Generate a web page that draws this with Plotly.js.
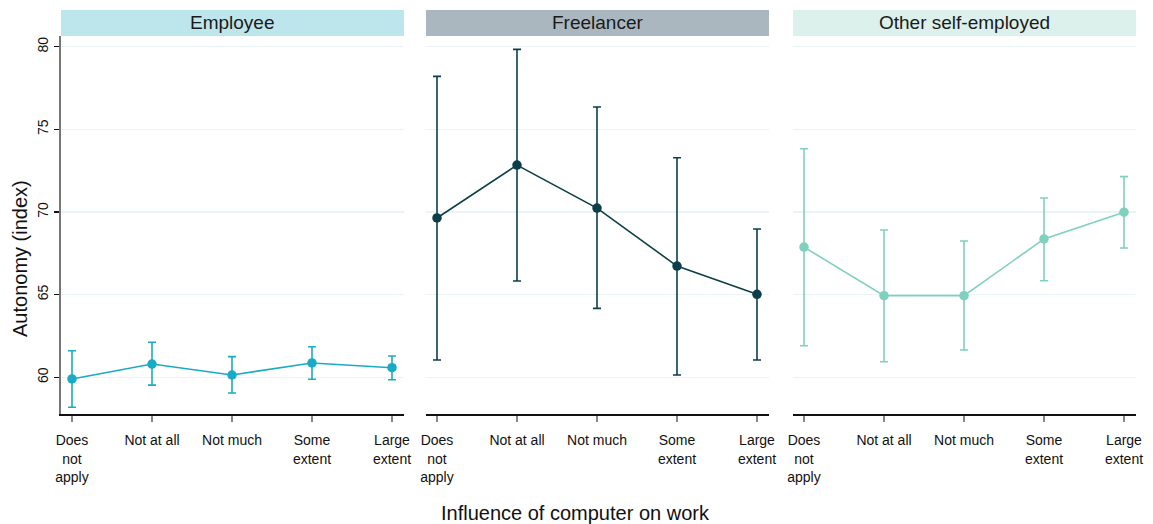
<!DOCTYPE html>
<html>
<head>
<meta charset="utf-8">
<script src="https://cdn.plot.ly/plotly-3.0.1.min.js"></script>
<style>html,body{margin:0;padding:0;background:#fff;}#chart{width:1153px;height:524px;}</style>
</head>
<body>
<div id="chart"></div>
<script>
const categories = ["Does<br>not<br>apply", "Not at all", "Not much", "Some<br>extent", "Large<br>extent"];
const panelNames = ["Employee", "Freelancer", "Other self-employed"];

const employeeMean = [59.90, 60.80, 60.14, 60.87, 60.58];
const employeeLow  = [58.19, 59.53, 59.05, 59.88, 59.85];
const employeeHigh = [61.61, 62.12, 61.25, 61.85, 61.29];

const freelancerMean = [69.64, 72.84, 70.24, 66.73, 65.02];
const freelancerLow  = [61.05, 65.83, 64.17, 60.14, 61.05];
const freelancerHigh = [78.21, 79.84, 76.35, 73.28, 68.97];

const otherMean = [67.88, 64.94, 64.94, 68.37, 69.99];
const otherLow  = [61.91, 60.94, 61.65, 65.84, 67.82];
const otherHigh = [73.83, 68.91, 68.25, 70.85, 72.14];

const yTicks = [60, 65, 70, 75, 80];

const lineColors = ["#19abc6", "#0d3f4b", "#7fd0bf"];
const stripColors = ["#bde5ec", "#aab7bf", "#dcf0ec"];

const W = 1153, H = 524;
const px = v => v / W;
const py = v => (H - v) / H;

const panelX = [[61, 404], [426, 769], [793, 1136]];
const plotTop = 36, plotBottom = 414, stripTop = 10;

const series = [
  [employeeMean, employeeLow, employeeHigh],
  [freelancerMean, freelancerLow, freelancerHigh],
  [otherMean, otherLow, otherHigh]
];

const traces = series.map((s, i) => {
  const [m, lo, hi] = s;
  const sfx = i === 0 ? "" : String(i + 1);
  return {
    type: "scatter",
    mode: "lines+markers",
    x: categories,
    y: m,
    xaxis: "x" + sfx,
    yaxis: "y" + sfx,
    line: {color: lineColors[i], width: 1.6},
    marker: {color: lineColors[i], size: 9.5},
    error_y: {
      type: "data",
      symmetric: false,
      array: hi.map((v, k) => v - m[k]),
      arrayminus: m.map((v, k) => v - lo[k]),
      color: lineColors[i],
      thickness: 1.6,
      width: 4
    },
    showlegend: false,
    hoverinfo: "x+y"
  };
});

const font = {family: "Arial, 'Liberation Sans', sans-serif", color: "#111"};
const yRange = [57.78, 80.65];

const layout = {
  width: W, height: H,
  margin: {l: 0, r: 0, t: 0, b: 0},
  paper_bgcolor: "#fff",
  plot_bgcolor: "#fff",
  font: Object.assign({size: 14}, font),
  shapes: [],
  annotations: []
};

for (let i = 0; i < 3; i++) {
  const sfx = i === 0 ? "" : String(i + 1);
  layout["xaxis" + sfx] = {
    domain: [px(panelX[i][0]), px(panelX[i][1])],
    anchor: "y" + sfx,
    type: "category",
    range: [-0.1375, 4.15],
    showline: true, linecolor: "#111", linewidth: 1.5,
    ticks: "outside", ticklen: 6, tickcolor: "#888", tickwidth: 1.5,
    ticklabelstandoff: 7,
    tickfont: Object.assign({size: 14}, font),
    showgrid: false, zeroline: false, fixedrange: true
  };
  layout["yaxis" + sfx] = {
    domain: [py(plotBottom), py(plotTop)],
    anchor: "x" + sfx,
    range: yRange,
    tickvals: yTicks,
    ticktext: yTicks.map(String),
    tickangle: -90,
    showticklabels: i === 0,
    ticks: i === 0 ? "outside" : "",
    ticklen: 5, tickcolor: "#111", tickwidth: 1.2,
    tickfont: Object.assign({size: 14}, font),
    showline: i === 0, linecolor: "#777", linewidth: 2,
    showgrid: true, gridcolor: "#eaf3f5", gridwidth: 1.5,
    zeroline: false, fixedrange: true
  };
  layout.shapes.push({
    type: "rect", xref: "paper", yref: "paper",
    x0: px(panelX[i][0]), x1: px(panelX[i][1]),
    y0: py(plotTop), y1: py(stripTop),
    fillcolor: stripColors[i], line: {width: 0}, layer: "below"
  });
  layout.annotations.push({
    xref: "paper", yref: "paper",
    x: (px(panelX[i][0]) + px(panelX[i][1])) / 2,
    y: (py(plotTop) + py(stripTop)) / 2,
    text: panelNames[i], showarrow: false,
    xanchor: "center", yanchor: "middle",
    font: Object.assign({size: 19}, font, {color: "#1a1a1a"})
  });
}

layout.annotations.push({
  xref: "paper", yref: "paper",
  x: px(20), y: py(259),
  text: "Autonomy (index)", textangle: -90, showarrow: false,
  xanchor: "center", yanchor: "middle",
  font: Object.assign({size: 20}, font)
});
layout.annotations.push({
  xref: "paper", yref: "paper",
  x: px(575), y: py(513),
  text: "Influence of computer on work", showarrow: false,
  xanchor: "center", yanchor: "middle",
  font: Object.assign({size: 20}, font)
});

Plotly.newPlot("chart", traces, layout, {displayModeBar: false, staticPlot: true});
</script>
</body>
</html>
